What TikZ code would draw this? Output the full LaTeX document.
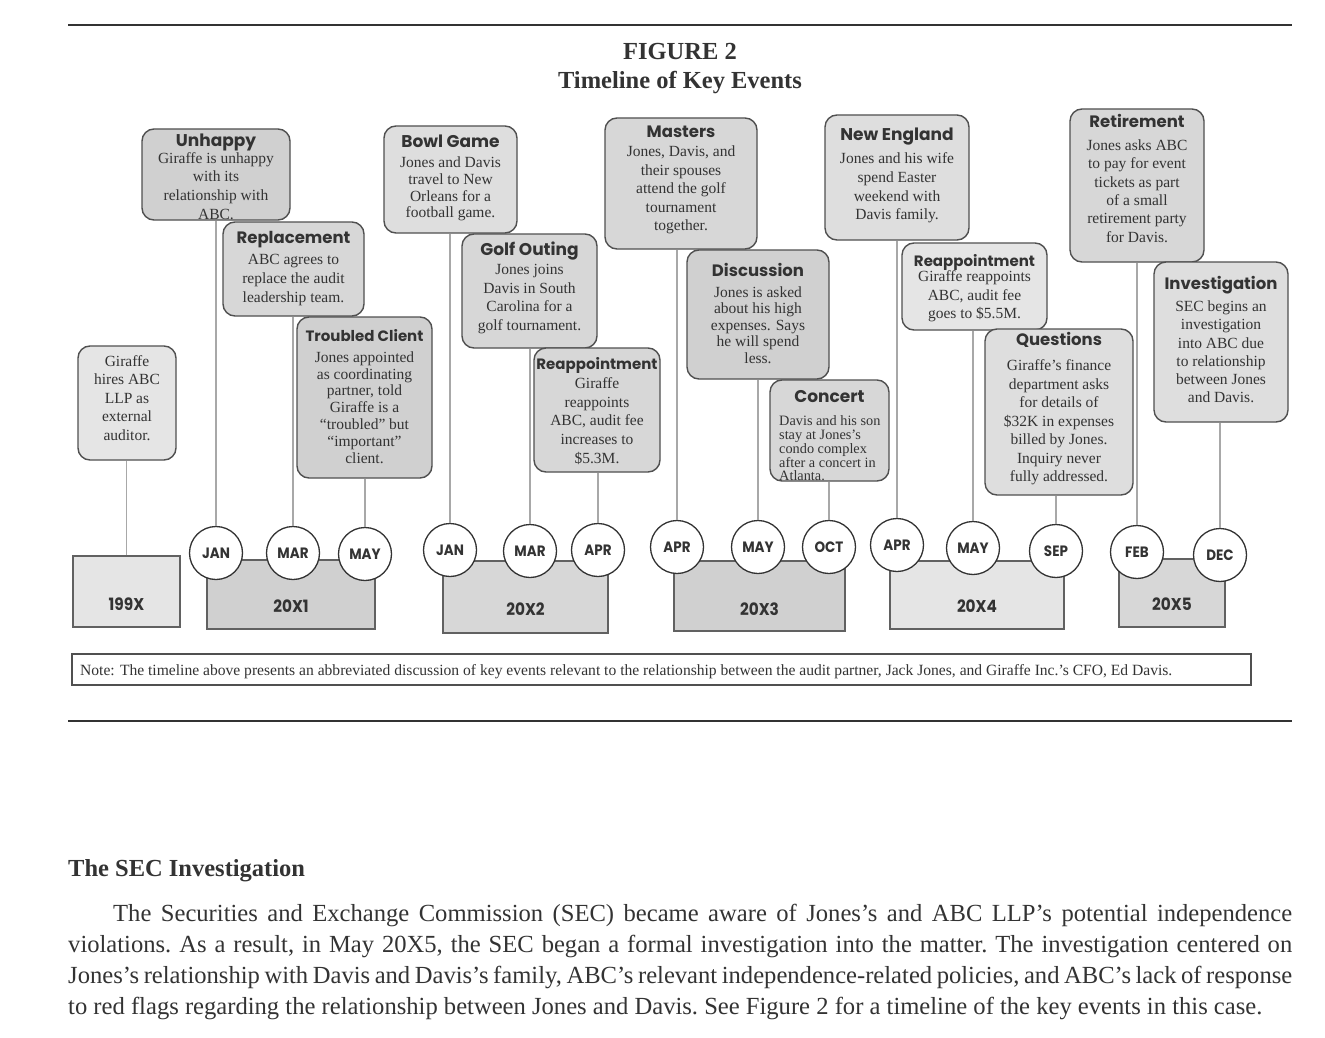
\documentclass[tikz,border=0pt]{standalone}
\usepackage{fontspec}
\usepackage{graphicx}
\setmainfont{Liberation Serif}
\newfontfamily\gothic{Poppins}
\newfontfamily\gothicc[FakeStretch=0.9]{Poppins}
\definecolor{txt}{HTML}{333333}
\definecolor{boxline}{HTML}{505050}
\definecolor{connc}{HTML}{A8A8A8}
\definecolor{gD}{HTML}{D0D0D0}
\definecolor{gM}{HTML}{D7D7D7}
\definecolor{gL2}{HTML}{DEDEDE}
\definecolor{gL}{HTML}{E5E5E5}
\newcommand\fs[2]{\fontsize{#1}{#2}\selectfont}
\tikzset{
  evbox/.style={rectangle,draw=boxline,line width=1.4pt,rounded corners=12pt,inner sep=0pt},
  ttl/.style={anchor=base,inner sep=0pt,text=txt},
  bdy/.style={anchor=center,align=center,inner sep=0pt,text=txt},
  yrbox/.style={rectangle,draw=boxline!90,line width=1.3pt,inner sep=0pt},
  yrlbl/.style={anchor=base,inner sep=0pt,text=txt,font=\gothicc\bfseries\fs{17}{17}},
  mon/.style={circle,draw=txt,line width=1.3pt,fill=white,minimum size=53pt,inner sep=0pt,text=txt,font=\gothicc\bfseries\fs{15}{15}},
  connl/.style={draw=connc,line width=1.2pt},
  rule/.style={draw=txt,line width=2pt}
}
\newcommand\evbox[6]{%
  \pgfmathsetmacro\cx{(#2+#4)/2}%
  \pgfmathsetmacro\cy{(#3+#5)/2}%
  \pgfmathsetmacro\bw{#4-#2}%
  \pgfmathsetmacro\bh{#5-#3}%
  \node[evbox,fill=#6,minimum width=\bw pt,minimum height=\bh pt] (#1) at (\cx,\cy) {};}
\newcommand\evtitle[4]{\node[ttl,font=\gothic\bfseries\fs{#4}{#4}] (#1-t) at (\cx,#3) {#2};}
\newcommand\evbody[5]{\node[bdy,font=\fs{#4}{#5}] (#1-b) at (\cx,#3) {#2};}
\newcommand\yrbox[8]{%
  \pgfmathsetmacro\cx{(#2+#4)/2}%
  \pgfmathsetmacro\cy{(#3+#5)/2}%
  \pgfmathsetmacro\bw{#4-#2}%
  \pgfmathsetmacro\bh{#5-#3}%
  \node[yrbox,fill=#6,minimum width=\bw pt,minimum height=\bh pt] (#1) at (\cx,\cy) {};
  \node[yrlbl] (#1-l) at (\cx,#8) {#7};}
\begin{document}
\begin{tikzpicture}[x=1pt,y=-1pt]
\useasboundingbox (0,0) rectangle (1325,1038);
\fill[white] (0,0) rectangle (1325,1038);
% rules and heading
\draw[rule] (68,25) -- (1292,25);
\draw[rule] (68,721) -- (1292,721);
\node[anchor=base,inner sep=0pt,text=txt,font=\bfseries\fs{24.5}{28}] (fig) at (680,60) {FIGURE 2};
\node[anchor=base,inner sep=0pt,text=txt,font=\bfseries\fs{24.5}{28}] (figtitle) at (680,89) {Timeline of Key Events};
% year boxes
\yrbox{y199x}{73}{556}{180}{627}{gL}{199X}{610}
\yrbox{y1}{207}{560}{375}{629}{gD}{20X1}{612}
\yrbox{y2}{443}{561}{608}{633}{gM}{20X2}{615}
\yrbox{y3}{674}{561}{845}{631}{gD}{20X3}{615}
\yrbox{y4}{890}{561}{1064}{629}{gL}{20X4}{612}
\yrbox{y5}{1119}{559}{1225}{627}{gM}{20X5}{610}
% month circles
\node[mon] (m11) at (216,553) {JAN};
\node[mon] (m12) at (293,553) {MAR};
\node[mon] (m13) at (365,554) {MAY};
\node[mon] (m21) at (450,550) {JAN};
\node[mon] (m22) at (530,551) {MAR};
\node[mon] (m23) at (598,550) {APR};
\node[mon] (m31) at (677,547) {APR};
\node[mon] (m32) at (758,547) {MAY};
\node[mon] (m33) at (829,547) {OCT};
\node[mon] (m41) at (897,545) {APR};
\node[mon] (m42) at (973,548) {MAY};
\node[mon] (m43) at (1056,551) {SEP};
\node[mon] (m51) at (1137,552) {FEB};
\node[mon] (m52) at (1220,555) {DEC};
% event boxes
\evbox{hire}{78}{346}{176}{460}{gL}
\evbody{hire}{Giraffe\\hires ABC\\LLP as\\external\\auditor.}{398}{15.5}{18.5}
\evbox{unhappy}{142}{129}{290}{220}{gD}
\evtitle{unhappy}{Unhappy}{146.5}{17}
\evbody{unhappy}{Giraffe is unhappy\\with its\\relationship with\\ABC.}{186}{15.5}{18.7}
\evbox{replace}{223}{222}{364}{316}{gM}
\evtitle{replace}{Replacement}{243}{16.5}
\evbody{replace}{ABC agrees to\\replace the audit\\leadership team.}{280}{15.5}{19}
\evbox{troubled}{297}{317}{432}{478}{gD}
\evtitle{troubled}{Troubled Client}{341}{15}
\evbody{troubled}{Jones appointed\\as coordinating\\partner, told\\Giraffe is a\\“troubled” but\\“important”\\client.}{407.5}{15.5}{16.8}
\evbox{bowl}{384}{126}{517}{233}{gL2}
\evtitle{bowl}{Bowl Game}{148}{17}
\evbody{bowl}{Jones and Davis\\travel to New\\Orleans for a\\football game.}{189}{15.5}{16.7}
\evbox{golf}{462}{234}{597}{348}{gM}
\evtitle{golf}{Golf Outing}{255.5}{17}
\evbody{golf}{Jones joins\\Davis in South\\Carolina for a\\golf tournament.}{299}{15.5}{18.7}
\evbox{reap1}{534}{348}{660}{472}{gM}
\evtitle{reap1}{Reappointment}{369}{15}
\evbody{reap1}{Giraffe\\reappoints\\ABC, audit fee\\increases to\\\$5.3M.}{421}{15.5}{18.75}
\evbox{masters}{605}{118}{757}{249}{gM}
\evtitle{masters}{Masters}{138}{16.5}
\evbody{masters}{Jones, Davis, and\\their spouses\\attend the golf\\tournament\\together.}{190}{15.5}{18.5}
\evbox{discuss}{687}{250}{829}{379}{gD}
\evtitle{discuss}{Discussion}{276}{16.5}
\evbody{discuss}{Jones is asked\\about his high\\expenses. Says\\he will spend\\less.}{325}{15.5}{16.5}
\evbox{concert}{770}{380}{889}{481}{gM}
\evtitle{concert}{Concert}{402}{17}
\node[anchor=west,align=left,inner sep=0pt,text=txt,font=\fs{14.3}{13.75}] (concert-b) at (779,448.5) {Davis and his son\\stay at Jones’s\\condo complex\\after a concert in\\Atlanta.};
\evbox{newengl}{825}{115}{969}{240}{gL2}
\evtitle{newengl}{New England}{141}{17}
\evbody{newengl}{Jones and his wife\\spend Easter\\weekend with\\Davis family.}{188}{15.5}{18.7}
\evbox{reap2}{902}{243}{1047}{330}{gL}
\evtitle{reap2}{Reappointment}{266}{15}
\evbody{reap2}{Giraffe reappoints\\ABC, audit fee\\goes to \$5.5M.}{296.5}{15.5}{18.5}
\evbox{quest}{985}{329}{1133}{495}{gL2}
\evtitle{quest}{Questions}{345}{16.5}
\evbody{quest}{Giraffe’s finance\\department asks\\for details of\\\$32K in expenses\\billed by Jones.\\Inquiry never\\fully addressed.}{422.5}{15.5}{18.5}
\evbox{retire}{1070}{109}{1204}{262}{gM}
\evtitle{retire}{Retirement}{128}{16.5}
\evbody{retire}{Jones asks ABC\\to pay for event\\tickets as part\\of a small\\retirement party\\for Davis.}{191}{15.5}{18.3}
\evbox{invest}{1154}{262}{1288}{422}{gL2}
\evtitle{invest}{Investigation}{289}{16.5}
\evbody{invest}{SEC begins an\\investigation\\into ABC due\\to relationship\\between Jones\\and Davis.}{352}{15.5}{18.2}
% connectors
\draw[connl] (y199x.north) -- (y199x.north |- hire.south);
\draw[connl] (m11.north) -- (m11.north |- unhappy.south);
\draw[connl] (m12.north) -- (m12.north |- replace.south);
\draw[connl] (m13.north) -- (m13.north |- troubled.south);
\draw[connl] (m21.north) -- (m21.north |- bowl.south);
\draw[connl] (m22.north) -- (m22.north |- golf.south);
\draw[connl] (m23.north) -- (m23.north |- reap1.south);
\draw[connl] (m31.north) -- (m31.north |- masters.south);
\draw[connl] (m32.north) -- (m32.north |- discuss.south);
\draw[connl] (m33.north) -- (m33.north |- concert.south);
\draw[connl] (m41.north) -- (m41.north |- newengl.south);
\draw[connl] (m42.north) -- (m42.north |- reap2.south);
\draw[connl] (m43.north) -- (m43.north |- quest.south);
\draw[connl] (m51.north) -- (m51.north |- retire.south);
\draw[connl] (m52.north) -- (m52.north |- invest.south);
% note
\node[rectangle,draw=boxline,line width=1.2pt,minimum width=1179pt,minimum height=31pt,inner sep=0pt] (notebox) at (661.5,669.5) {};
\node[anchor=base west,inner sep=0pt,text=txt] (note) at (80,675) {\resizebox{1092pt}{11pt}{\fs{15}{15}Note: The timeline above presents an abbreviated discussion of key events relevant to the relationship between the audit partner, Jack Jones, and Giraffe Inc.’s CFO, Ed Davis.}};
% section text
\node[anchor=base west,inner sep=0pt,text=txt,font=\bfseries\fs{24.5}{28}] (sechd) at (68,876) {The SEC Investigation};
\node[anchor=base west,inner sep=0pt,text=txt,font=\fs{24.6}{31}] (para) at (68,921) {\begin{minipage}[t]{1224pt}\frenchspacing%
\hbox to\linewidth{\hspace*{45pt}The Securities and Exchange Commission (SEC) became aware of Jones’s and ABC LLP’s potential independence}%
\hbox to\linewidth{violations. As a result, in May 20X5, the SEC began a formal investigation into the matter. The investigation centered on}%
\hbox to\linewidth{Jones’s relationship with Davis and Davis’s family, ABC’s relevant independence-related policies, and ABC’s lack of response}%
\hbox{to red flags regarding the relationship between Jones and Davis. See Figure 2 for a timeline of the key events in this case.}%
\end{minipage}};
\end{tikzpicture}
\end{document}
